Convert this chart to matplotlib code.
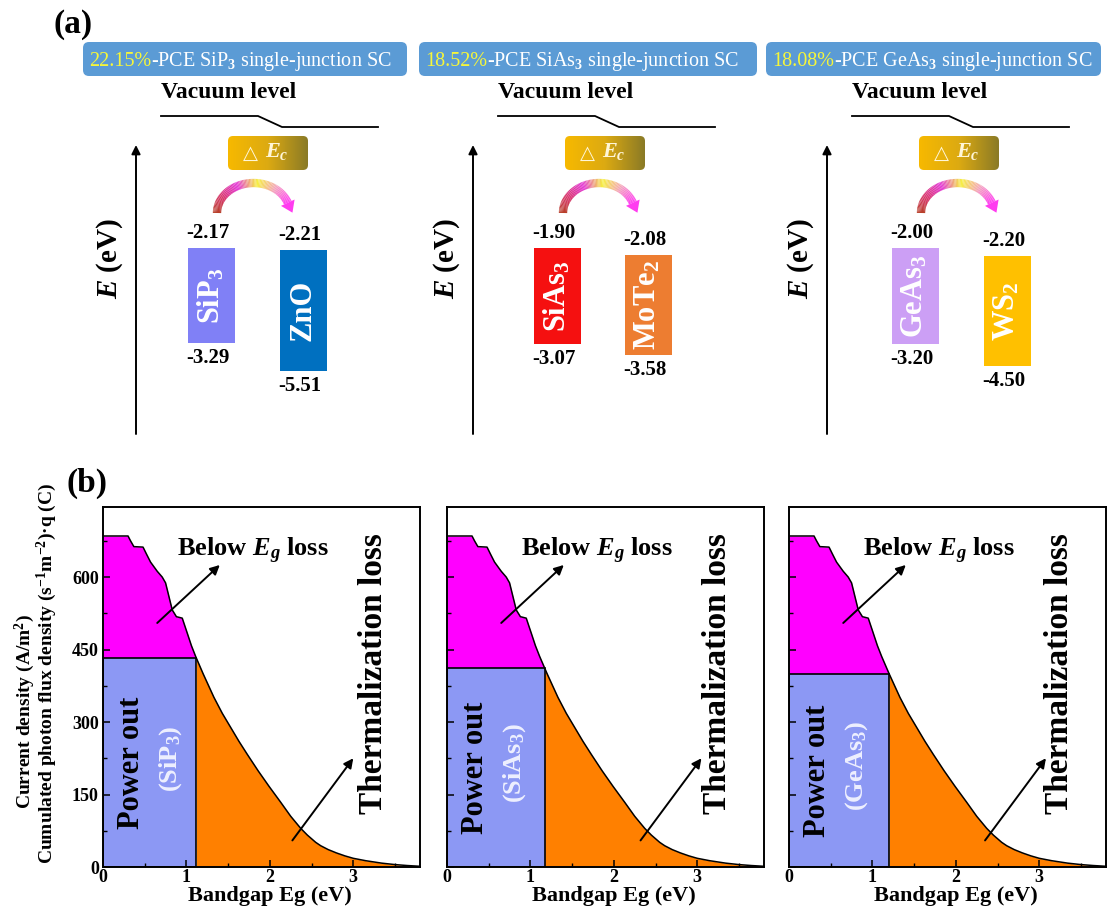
import numpy as np
import matplotlib.pyplot as plt
from matplotlib.patches import FancyBboxPatch, Rectangle, Polygon
from matplotlib.collections import LineCollection
from matplotlib.colors import LinearSegmentedColormap
from matplotlib.ticker import MultipleLocator

plt.rcParams['font.family'] = ['Liberation Serif', 'DejaVu Serif']
plt.rcParams['font.weight'] = 'bold'
plt.rcParams['axes.labelweight'] = 'bold'
plt.rcParams['mathtext.fontset'] = 'custom'
plt.rcParams['mathtext.rm'] = 'Liberation Serif:bold'
plt.rcParams['mathtext.it'] = 'Liberation Serif:italic:bold'
plt.rcParams['mathtext.bf'] = 'Liberation Serif:bold'

W, H = 1110, 910

# (a) band alignment of the absorbers and their partner layers (eV)
absorbers = ['SiP$_3$', 'SiAs$_3$', 'GeAs$_3$']
absorber_cbm = [-2.17, -1.90, -2.00]
absorber_vbm = [-3.29, -3.07, -3.20]
partners = ['ZnO', 'MoTe$_2$', 'WS$_2$']
partner_cbm = [-2.21, -2.08, -2.20]
partner_vbm = [-5.51, -3.58, -4.50]
pce = ['22.15%', '18.52%', '18.08%']

# (b) cumulated photon current density above a given gap, AM1.5G
eg_grid = [0.00, 0.30, 0.33, 0.37, 0.48, 0.52, 0.57, 0.65, 0.71, 0.75, 0.79,
           0.83, 0.88, 0.95, 1.01, 1.06, 1.11, 1.20, 1.33, 1.43, 1.53, 1.63,
           1.73, 1.86, 1.99, 2.13, 2.25, 2.37, 2.45, 2.55, 2.61, 2.70, 2.80,
           2.90, 3.00, 3.15, 3.34, 3.50, 3.65, 3.80]
j_cum = [685, 685, 675, 663, 662, 648, 631, 612, 600, 588, 560,
         532, 518, 515, 484, 458, 436, 400, 351, 318, 289, 260,
         233, 199, 167, 134, 105, 80, 66, 51, 44, 36, 29,
         23, 18, 13, 8, 5, 3, 1.5]

absorber_colors = ['#8080f6', '#f51010', '#cc9ff5']
partner_colors = ['#0070c0', '#ed7d31', '#ffc000']

fig = plt.figure(figsize=(W / 100, H / 100), dpi=100)
renderer = fig.canvas.get_renderer()

# ---------- (a): drawn on a full-figure canvas in pixel units ----------
top = fig.add_axes([0, 0, 1, 1])
top.axis('off')
top.set_xlim(0, W)
top.set_ylim(H, 0)
top.set_autoscale_on(False)

anchor = [268, 605, 959]
bar_centers = [(211, 303), (557, 648), (915, 1007)]
box_span = [(83, 407), (419, 757), (766, 1101)]
BAR_W = 47
Y_CB = 248

gold = LinearSegmentedColormap.from_list('gold', ['#f7b900', '#dcaa12', '#8a7a26'])
swoosh = LinearSegmentedColormap.from_list(
    'swoosh', ['#b8402a', '#d8306a', '#e43ad8', '#f6f040', '#f4a0c0', '#ff3cf0'])


def level(e, ref):
    # conduction band offsets, drawn relative to the absorber CBM
    return Y_CB + 40 * (ref - e)


def draw_bar(xc, cbm, vbm, ref, color, name):
    y0 = level(cbm, ref)
    h = 82 + 12 * (cbm - vbm)  # compressed gap height, schematic
    top.add_patch(Rectangle((xc - BAR_W / 2, y0), BAR_W, h, fc=color, ec='none'))
    top.text(xc, y0 + h / 2, name, rotation=90, color='white', fontsize=22,
             ha='center', va='center')
    top.text(xc - 3, y0 - 15, f'{cbm:.2f}', fontsize=15, ha='center', va='center')
    top.text(xc - 3, y0 + h + 15, f'{vbm:.2f}', fontsize=15, ha='center', va='center')


for i in range(3):
    a = anchor[i]
    x0, x1 = box_span[i]
    top.add_patch(FancyBboxPatch((x0, 42), x1 - x0, 34,
                                 boxstyle='round,pad=0,rounding_size=6',
                                 fc='#5b9bd5', ec='none'))
    t1 = top.text(x0 + 6, 66, pce[i], color='#f6f63a', fontsize=14.5,
                  fontweight='normal', va='baseline')
    bb = t1.get_window_extent(renderer)
    xs = top.transData.inverted().transform((bb.x1, 0))[0]
    top.text(xs, 66, f'-PCE {absorbers[i]} single-junction SC', color='white',
             fontsize=14.5, fontweight='normal', va='baseline')

    top.text(a - 39, 93, 'Vacuum level', fontsize=17, ha='center', va='center')
    top.plot([a - 107, a - 10, a + 14, a + 110], [116, 116, 127, 127],
             color='black', lw=1.3)

    # gradient box for the conduction band offset
    bx0 = a - 40
    clip = FancyBboxPatch((bx0, 136), 80, 34, boxstyle='round,pad=0,rounding_size=5',
                          fc='none', ec='none')
    top.add_patch(clip)
    im = top.imshow(np.linspace(0, 1, 256)[None, :], extent=(bx0, bx0 + 80, 170, 136),
                    cmap=gold, aspect='auto', zorder=2)
    im.set_clip_path(clip)
    top.text(bx0 + 22, 153, '△', family=['DejaVu Sans'], fontweight='normal',
             fontsize=14, color='#fff6d8', ha='center', va='center', zorder=3)
    top.text(bx0 + 49, 152, '$E_c$', fontsize=16, color='#fff6d8',
             ha='center', va='center', zorder=3)

    # energy axis
    top.annotate('', xy=(a - 132, 145), xytext=(a - 132, 434),
                 arrowprops=dict(arrowstyle='-|>', lw=1.4, color='black',
                                 mutation_scale=13, shrinkA=0, shrinkB=0))
    top.text(a - 158, 258, '$E$ (eV)', rotation=90, fontsize=21,
             ha='center', va='center')

    c1, c2 = bar_centers[i]
    draw_bar(c1, absorber_cbm[i], absorber_vbm[i], absorber_cbm[i],
             absorber_colors[i], absorbers[i])
    draw_bar(c2, partner_cbm[i], partner_vbm[i], absorber_cbm[i],
             partner_colors[i], partners[i])

    # electron transfer arc from absorber to partner
    sx, ex = c1 + 6, c2 - 13
    cx, rx, yb, hh = (sx + ex) / 2, (ex - sx) / 2, 213, 30
    t = np.linspace(np.pi, 0.35, 80)
    pts = np.column_stack([cx + rx * np.cos(t), yb - hh * np.sin(t)])
    segs = np.stack([pts[:-1], pts[1:]], axis=1)
    top.add_collection(LineCollection(segs, colors=swoosh(np.linspace(0, 1, len(segs))),
                                      linewidths=6, capstyle='butt', zorder=3))
    d = pts[-1] - pts[-2]
    d = d / np.hypot(*d)
    n = np.array([-d[1], d[0]])
    tip = pts[-1] + d * 11
    top.add_patch(Polygon([pts[-1] + n * 7.5, pts[-1] - n * 7.5, tip],
                          fc='#ff3cf0', ec='none', zorder=3))

top.text(73, 25, '(a)', fontsize=24, ha='center', va='center')
top.text(87, 483, '(b)', fontsize=24, ha='center', va='center')
top.set_xlim(0, W)
top.set_ylim(H, 0)

# ---------- (b): loss analysis ----------
lefts = [103, 447, 789]
labels = ['(SiP$_3$)', '(SiAs$_3$)', '(GeAs$_3$)']
XMAX, YMAX = 3.8, 745

for i in range(3):
    ax = fig.add_axes([lefts[i] / W, (H - 867) / H, 317 / W, 360 / H])
    eg = absorber_cbm[i] - absorber_vbm[i]
    j_eg = np.interp(eg, eg_grid, j_cum)
    x = np.union1d(eg_grid, [eg])
    y = np.interp(x, eg_grid, j_cum)

    below = x <= eg
    above = x >= eg
    ax.fill_between(x[below], j_eg, y[below], color='#ff00ff', lw=0)
    ax.fill_between(x[above], 0, y[above], color='#ff8000', lw=0)
    ax.add_patch(Rectangle((0, 0), eg, j_eg, fc='#8c98f4', ec='black', lw=1.2))
    ax.plot(x, y, color='black', lw=1.1)

    ax.text(1.8, 655, 'Below $E_g$ loss', fontsize=19, ha='center', va='center')
    ax.annotate('', xy=(1.40, 625), xytext=(0.65, 505),
                arrowprops=dict(arrowstyle='-|>', lw=1.4, color='black',
                                mutation_scale=14, shrinkA=0, shrinkB=0))
    ax.text(3.24, 400, 'Thermalization loss', rotation=90, fontsize=24,
            ha='center', va='center')
    ax.annotate('', xy=(eg + 1.88, 225), xytext=(eg + 1.15, 55),
                arrowprops=dict(arrowstyle='-|>', lw=1.4, color='black',
                                mutation_scale=14, shrinkA=0, shrinkB=0))
    ax.text(0.34, j_eg * 0.5, 'Power out', rotation=90, fontsize=22,
            ha='center', va='center')
    ax.text(0.81, j_eg * 0.52, labels[i], rotation=90, fontsize=19,
            color='#eef0ff', ha='center', va='center')

    ax.set_xlim(0, XMAX)
    ax.set_ylim(0, YMAX)
    ax.set_xticks([0, 1, 2, 3])
    ax.set_yticks([0, 150, 300, 450, 600])
    ax.xaxis.set_minor_locator(MultipleLocator(0.5))
    ax.yaxis.set_minor_locator(MultipleLocator(75))
    ax.tick_params(which='both', direction='in', top=False, right=False,
                   labelsize=13)
    ax.tick_params(axis='x', pad=1.5)
    ax.tick_params(axis='y', pad=3)
    ax.tick_params(which='major', length=5, width=1.1)
    ax.tick_params(which='minor', length=3, width=1.0)
    if i > 0:
        ax.tick_params(labelleft=False)
    for s in ax.spines.values():
        s.set_linewidth(1.4)
    ax.set_xlabel('Bandgap Eg (eV)', fontsize=16)
    ax.xaxis.set_label_coords(2 / XMAX, -0.08)
    ax.xaxis.label.set_va('center')

fig.text(25 / W, 1 - 712 / H, 'Current density (A/m$^2$)', rotation=90,
         fontsize=14, ha='center', va='center')
fig.text(47 / W, 1 - 673 / H, 'Cumulated photon flux density (s$^{-1}$m$^{-2}$)·q (C)',
         rotation=90, fontsize=14, ha='center', va='center')

fig.savefig('out.png', dpi=100)
